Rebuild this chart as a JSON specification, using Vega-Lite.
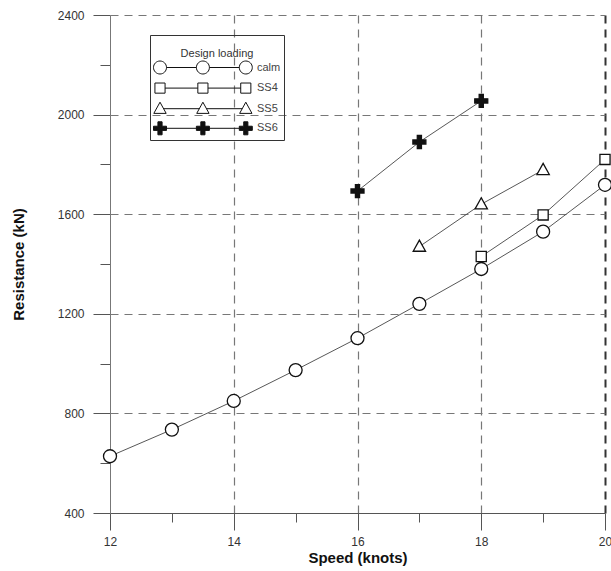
{
  "$schema": "https://vega.github.io/schema/vega-lite/v6.json",
  "width": 495,
  "height": 498,
  "autosize": "none",
  "padding": {"left": 110, "top": 15, "right": 6, "bottom": 58},
  "background": "white",
  "config": {"view": {"stroke": null}, "font": "Liberation Sans"},
  "data": {
    "values": [
      {"series": "calm", "speed": 12, "resistance": 628},
      {"series": "calm", "speed": 13, "resistance": 735},
      {"series": "calm", "speed": 14, "resistance": 850},
      {"series": "calm", "speed": 15, "resistance": 974},
      {"series": "calm", "speed": 16, "resistance": 1102},
      {"series": "calm", "speed": 17, "resistance": 1240},
      {"series": "calm", "speed": 18, "resistance": 1380},
      {"series": "calm", "speed": 19, "resistance": 1530},
      {"series": "calm", "speed": 20, "resistance": 1718},
      {"series": "SS4", "speed": 18, "resistance": 1430},
      {"series": "SS4", "speed": 19, "resistance": 1597},
      {"series": "SS4", "speed": 20, "resistance": 1820},
      {"series": "SS5", "speed": 17, "resistance": 1470},
      {"series": "SS5", "speed": 18, "resistance": 1640},
      {"series": "SS5", "speed": 19, "resistance": 1778},
      {"series": "SS6", "speed": 16, "resistance": 1693},
      {"series": "SS6", "speed": 17, "resistance": 1890},
      {"series": "SS6", "speed": 18, "resistance": 2055}
    ]
  },
  "encoding": {
    "x": {
      "field": "speed",
      "type": "quantitative",
      "scale": {"domain": [12, 20], "nice": false, "zero": false},
      "axis": {
        "values": [12, 13, 14, 15, 16, 17, 18, 19, 20],
        "title": "Speed (knots)",
        "titleFont": "Liberation Sans",
        "titleFontSize": 15,
        "titleFontWeight": "bold",
        "titleColor": "#111",
        "titlePadding": 3,
        "labelFont": "Liberation Sans",
        "labelFontSize": 12,
        "labelColor": "#333",
        "labelPadding": 6,
        "labelFlush": false,
        "labelOverlap": false,
        "labelExpr": "datum.value % 2 === 0 ? datum.label : ''",
        "tickSize": 17,
        "tickDash": {"condition": {"test": "datum.value % 2 === 0", "value": [20, 1]}, "value": [9, 30]},
        "tickColor": "#555",
        "tickWidth": 1,
        "domainColor": "#555",
        "domainWidth": 1,
        "grid": true,
        "gridDash": [8, 6],
        "gridColor": {"condition": {"test": "datum.value === 20", "value": "#333"}, "value": "#777"},
        "gridWidth": {"condition": {"test": "datum.value === 20", "value": 2}, "value": 1.2},
        "gridOpacity": {"condition": {"test": "datum.value % 2 !== 0 || datum.value === 12", "value": 0}, "value": 1}
      }
    },
    "y": {
      "field": "resistance",
      "type": "quantitative",
      "scale": {"domain": [400, 2400], "nice": false, "zero": false},
      "axis": {
        "values": [400, 600, 800, 1000, 1200, 1400, 1600, 1800, 2000, 2200, 2400],
        "format": "d",
        "title": "Resistance (kN)",
        "titleFont": "Liberation Sans",
        "titleFontSize": 15,
        "titleFontWeight": "bold",
        "titleColor": "#111",
        "titlePadding": 31,
        "labelFont": "Liberation Sans",
        "labelFontSize": 12,
        "labelColor": "#333",
        "labelPadding": 9,
        "labelOverlap": false,
        "labelExpr": "datum.value % 400 === 0 ? datum.label : ''",
        "tickSize": 17,
        "tickDash": {"condition": {"test": "datum.value % 400 === 0", "value": [20, 1]}, "value": [10, 30]},
        "tickColor": "#555",
        "tickWidth": 1,
        "domainColor": "#777",
        "domainWidth": 1,
        "grid": true,
        "gridDash": [8, 6],
        "gridColor": "#777",
        "gridWidth": 1.2,
        "gridOpacity": {"condition": {"test": "datum.value % 400 !== 0 || datum.value === 400", "value": 0}, "value": 1}
      }
    }
  },
  "layer": [
    {
      "mark": {"type": "line", "color": "#444", "strokeWidth": 0.9},
      "encoding": {"detail": {"field": "series", "type": "nominal"}}
    },
    {
      "mark": {"type": "point", "size": 169, "stroke": "#111", "strokeWidth": 1.3, "opacity": 1, "filled": true},
      "encoding": {
        "shape": {
          "field": "series",
          "type": "nominal",
          "scale": {
            "domain": ["calm", "SS4", "SS5", "SS6"],
            "range": [
              "M1,0A1 1 0 1 1 -1,0A1 1 0 1 1 1,0Z",
              "M-0.78,-0.78H0.78V0.78H-0.78Z",
              "M0,-1L0.95,0.72H-0.95Z",
              "M-0.32,-1H0.32V-0.32H1V0.32H0.32V1H-0.32V0.32H-1V-0.32H-0.32Z"
            ]
          },
          "legend": null
        },
        "fill": {
          "field": "series",
          "type": "nominal",
          "scale": {"domain": ["calm", "SS4", "SS5", "SS6"], "range": ["white", "white", "white", "#111"]},
          "legend": null
        }
      }
    },
    {
      "mark": {"type": "point", "size": 169, "stroke": "#111", "strokeWidth": 1, "opacity": 0, "filled": true},
      "encoding": {
        "shape": {
          "field": "series",
          "type": "nominal",
          "scale": {
            "domain": ["calm", "SS4", "SS5", "SS6"],
            "range": [
              "M1,0A1 1 0 1 1 -1,0A1 1 0 1 1 1,0ZM1,0H5.6M7.6,0A1 1 0 1 1 5.6,0A1 1 0 1 1 7.6,0ZM7.6,0H12.2M14.2,0A1 1 0 1 1 12.2,0A1 1 0 1 1 14.2,0Z",
              "M-0.78,-0.78H0.78V0.78H-0.78ZM0.78,0H5.82M5.82,-0.78H7.38V0.78H5.82ZM7.38,0H12.42M12.42,-0.78H13.98V0.78H12.42Z",
              "M0,-1L0.95,0.72H-0.95ZM0.55,0H6.05M6.6,-1L7.55,0.72H5.65ZM7.15,0H12.65M13.2,-1L14.15,0.72H12.25Z",
              "M-0.32,-1H0.32V-0.32H1V0.32H0.32V1H-0.32V0.32H-1V-0.32H-0.32ZM1,0H5.6M6.28,-1H6.92V-0.32H7.6V0.32H6.92V1H6.28V0.32H5.6V-0.32H6.28ZM7.6,0H12.2M12.88,-1H13.52V-0.32H14.2V0.32H13.52V1H12.88V0.32H12.2V-0.32H12.88Z"
            ]
          },
          "legend": {
            "title": ["", "Design loading"],
            "orient": "none",
            "legendX": 40,
            "legendY": 20,
            "strokeColor": "#333",
            "padding": 3,
            "titleFont": "Liberation Sans",
            "titleFontSize": 11,
            "titleFontWeight": "normal",
            "titleColor": "#333",
            "titleAnchor": "middle",
            "titleLineHeight": 9.5,
            "titlePadding": 2,
            "labelFont": "Liberation Sans",
            "labelFontSize": 11,
            "labelColor": "#444",
            "labelOffset": 90,
            "symbolSize": 169,
            "symbolStrokeWidth": 1,
            "symbolOpacity": 1,
            "rowPadding": 3.6
          }
        },
        "fill": {
          "field": "series",
          "type": "nominal",
          "scale": {"domain": ["calm", "SS4", "SS5", "SS6"], "range": ["white", "white", "white", "#111"]},
          "legend": {
            "title": ["", "Design loading"],
            "orient": "none",
            "legendX": 40,
            "legendY": 20,
            "strokeColor": "#333",
            "padding": 3,
            "titleFont": "Liberation Sans",
            "titleFontSize": 11,
            "titleFontWeight": "normal",
            "titleColor": "#333",
            "titleAnchor": "middle",
            "titleLineHeight": 9.5,
            "titlePadding": 2,
            "labelFont": "Liberation Sans",
            "labelFontSize": 11,
            "labelColor": "#444",
            "labelOffset": 90,
            "symbolSize": 169,
            "symbolStrokeWidth": 1,
            "symbolOpacity": 1,
            "rowPadding": 3.6
          }
        }
      }
    }
  ],
  "resolve": {"scale": {"shape": "independent", "fill": "independent"}}
}
